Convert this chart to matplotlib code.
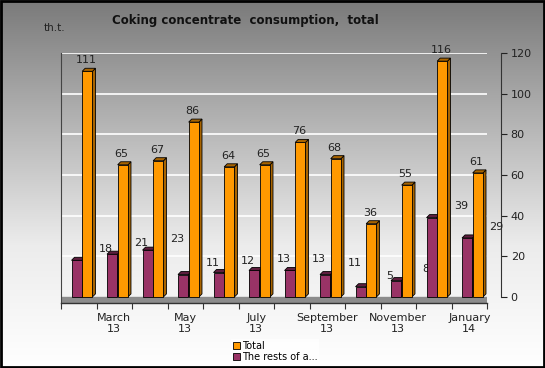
import numpy as np
import matplotlib
matplotlib.use("Agg")
import matplotlib.pyplot as plt
from matplotlib.patches import Polygon, Rectangle

# data (th.t.)
months = ["February\n13", "March\n13", "April\n13", "May\n13", "June\n13", "July\n13",
          "August\n13", "September\n13", "October\n13", "November\n13", "December\n13", "January\n14"]
total = [111, 65, 67, 86, 64, 65, 76, 68, 36, 55, 116, 61]
rests = [18, 21, 23, 11, 12, 13, 13, 11, 5, 8, 39, 29]

c_tot, c_tot_dk = "#FF9900", "#A86400"
c_rest, c_rest_dk = "#993366", "#5E1E3E"

fig = plt.figure(figsize=(5.45, 3.68), dpi=100)

# background gradient
bg = fig.add_axes([0, 0, 1, 1], zorder=-10)
grad = np.linspace(0, 1, 256).reshape(-1, 1)
bg.imshow(grad, aspect="auto", cmap=matplotlib.colors.LinearSegmentedColormap.from_list(
    "g", ["#7a7a7a", "#b4b4b4", "#ececec", "#ffffff"]), extent=(0, 1, 0, 1), origin="upper")
bg.add_patch(Rectangle((0.002, 0.003), 0.996, 0.994, fill=False, ec="black", lw=2,
                       transform=bg.transAxes))
bg.set_axis_off()

ax = fig.add_axes([0.112, 0.1766, 0.7817, 0.6793])
ax.patch.set_alpha(0)
ax.set_xlim(-0.5, 11.5)
ax.set_ylim(-3, 120)

w = 0.29
dx, dy = 0.085, 1.5
x = np.arange(len(months))

# floor
ax.axhspan(-3, 0, xmin=0, xmax=1, color="#8c8c8c", zorder=1)
for yv in range(20, 121, 20):
    ax.axhline(yv, color="white", lw=1.2, zorder=0)


def bar3d(xc, h, col, dk):
    ax.bar(xc, h, w, color=col, edgecolor="black", lw=0.6, zorder=3)
    l, r = xc - w / 2, xc + w / 2
    ax.add_patch(Polygon([(r, 0), (r + dx, dy), (r + dx, h + dy), (r, h)],
                         closed=True, fc=dk, ec="black", lw=0.6, zorder=2))
    ax.add_patch(Polygon([(l, h), (l + dx, h + dy), (r + dx, h + dy), (r, h)],
                         closed=True, fc=dk, ec="black", lw=0.6, zorder=2))


for i in range(len(months)):
    bar3d(x[i] - 0.06, rests[i], c_rest, c_rest_dk)
    bar3d(x[i] + 0.24, total[i], c_tot, c_tot_dk)
    ax.text(x[i] + 0.2, total[i] + 5.5, str(total[i]), ha="center", va="center",
            fontsize=8, color="#222222")
    ax.text(x[i] + 0.77, rests[i] + 5.5, str(rests[i]), ha="center", va="center",
            fontsize=8, color="#222222")

# axes styling
for s in ["top"]:
    ax.spines[s].set_visible(False)
ax.spines["bottom"].set_visible(False)
ax.spines["left"].set_color("#444444")
ax.spines["right"].set_position(("outward", 10))
ax.spines["right"].set_bounds(0, 120)
ax.spines["right"].set_color("#333333")
ax.yaxis.tick_right()
ax.set_yticks(range(0, 121, 20))
ax.tick_params(axis="y", labelsize=8, length=4, colors="#222222", pad=3)
ax.tick_params(axis="y", which="both", left=False)

ax.set_xticks(np.arange(-0.5, 12, 1))
ax.set_xticklabels([])
ax.tick_params(axis="x", length=4, color="#333333")
ax.set_xticks(x[1::2], minor=True)
ax.set_xticklabels(months[1::2], minor=True, fontsize=8, color="#222222", linespacing=1.1)
ax.tick_params(axis="x", which="minor", length=0, pad=7)
ax.axhline(-3, color="#333333", lw=1, zorder=4, clip_on=False)

fig.text(0.45, 0.945, "Coking concentrate  consumption,  total", ha="center", va="center",
         fontsize=8.5, fontweight="bold", color="#111111")
fig.text(0.10, 0.923, "th.t.", ha="center", va="center", fontsize=7.5, color="#222222")

hs = [Rectangle((0, 0), 1, 1, fc=c_tot, ec="black", lw=0.6),
      Rectangle((0, 0), 1, 1, fc=c_rest, ec="black", lw=0.6)]
leg = fig.legend(hs, ["Total", "The rests of a..."], loc="center",
                 bbox_to_anchor=(0.505, 0.045), fontsize=7, frameon=True, fancybox=False,
                 handlelength=0.7, handleheight=0.7, handletextpad=0.2, labelspacing=0.15,
                 borderpad=0.2, borderaxespad=0)
leg.get_frame().set_facecolor("#ffffff")
leg.get_frame().set_edgecolor("none")

fig.savefig("out.png", dpi=100)
